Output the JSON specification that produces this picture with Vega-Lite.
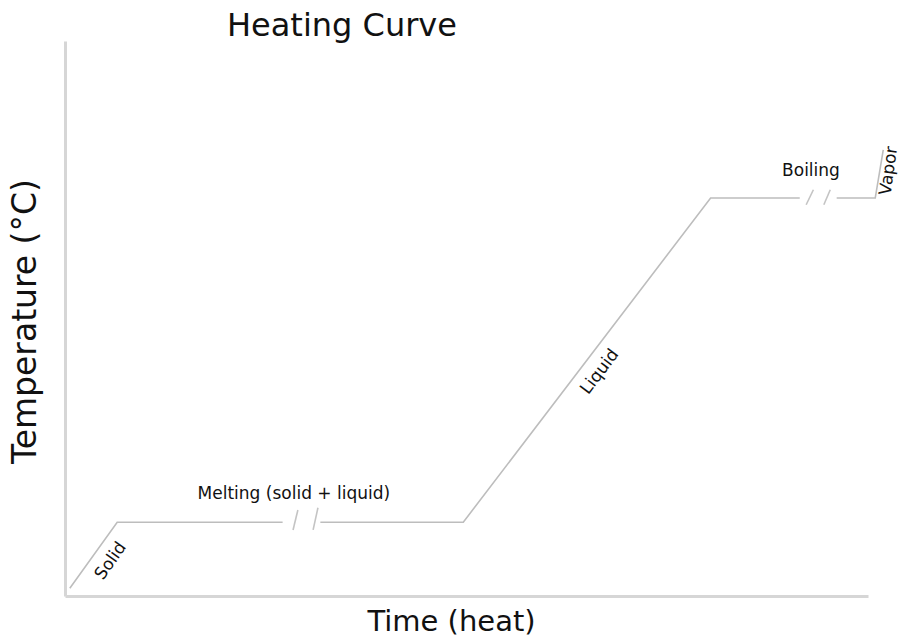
{
  "$schema": "https://vega.github.io/schema/vega-lite/v6.json",
  "autosize": "none",
  "width": 803,
  "height": 555,
  "padding": {"left": 65, "top": 41, "right": 34, "bottom": 42},
  "background": "white",
  "config": {"view": {"stroke": null}, "font": "DejaVu Sans"},
  "title": {"text": "Heating Curve", "anchor": "start", "frame": "group", "dx": 162, "offset": -2, "fontSize": 32, "fontWeight": "normal", "font": "DejaVu Sans", "color": "#111111"},
  "datasets": {
    "curve": [
      {"seg": "a", "t": 1, "time": 0.6, "temp": 1.4},
      {"seg": "a", "t": 2, "time": 6.5, "temp": 13.3},
      {"seg": "a", "t": 3, "time": 27.1, "temp": 13.3},
      {"seg": "b", "t": 4, "time": 31.8, "temp": 13.3},
      {"seg": "b", "t": 5, "time": 49.6, "temp": 13.3},
      {"seg": "b", "t": 6, "time": 80.4, "temp": 71.7},
      {"seg": "b", "t": 7, "time": 91.5, "temp": 71.7},
      {"seg": "c", "t": 8, "time": 96.1, "temp": 71.7},
      {"seg": "c", "t": 9, "time": 100.9, "temp": 71.7},
      {"seg": "c", "t": 10, "time": 101.9, "temp": 80.4}
    ],
    "breaks": [
      {"time": 28.4, "temp": 11.9, "time2": 29.0, "temp2": 15.5},
      {"time": 30.9, "temp": 11.9, "time2": 31.5, "temp2": 15.9},
      {"time": 92.3, "temp": 70.5, "time2": 93.2, "temp2": 73.2},
      {"time": 94.5, "temp": 70.5, "time2": 95.3, "temp2": 73.2}
    ],
    "labels": [
      {"label": "Solid", "kind": "solid", "time": 5.7, "temp": 6.3},
      {"label": "Melting (solid + liquid)", "kind": "flat", "time": 28.5, "temp": 18.4},
      {"label": "Liquid", "kind": "liquid", "time": 66.6, "temp": 40.4},
      {"label": "Boiling", "kind": "flat", "time": 92.9, "temp": 76.6},
      {"label": "Vapor", "kind": "vapor", "time": 102.6, "temp": 76.6}
    ]
  },
  "encoding": {
    "x": {"field": "time", "type": "quantitative", "scale": {"domain": [0, 100], "nice": false, "zero": false},
      "axis": {"title": "Time (heat)", "titleFontSize": 29, "titleFontWeight": "normal", "titleColor": "#111111", "titlePadding": 11, "titleX": 386, "labels": false, "ticks": false, "grid": false, "domainColor": "#d6d6d6", "domainWidth": 3}},
    "y": {"field": "temp", "type": "quantitative", "scale": {"domain": [0, 100], "nice": false, "zero": false},
      "axis": {"title": "Temperature (°C)", "titleFontSize": 33, "titleFontWeight": "normal", "titleColor": "#111111", "titlePadding": 23, "titleY": 280, "labels": false, "ticks": false, "grid": false, "domainColor": "#d6d6d6", "domainWidth": 3}}
  },
  "layer": [
    {
      "data": {"name": "curve"},
      "mark": {"type": "line", "color": "#bdbdbd", "strokeWidth": 1.6},
      "encoding": {"detail": {"field": "seg"}, "order": {"field": "t", "type": "quantitative"}}
    },
    {
      "data": {"name": "breaks"},
      "mark": {"type": "rule", "color": "#c4c4c4", "strokeWidth": 1.6},
      "encoding": {"x2": {"field": "time2"}, "y2": {"field": "temp2"}}
    },
    {
      "data": {"name": "labels"},
      "transform": [{"filter": "datum.kind === 'flat'"}],
      "mark": {"type": "text", "fontSize": 17, "color": "#111111", "align": "center", "baseline": "middle"},
      "encoding": {"text": {"field": "label"}}
    },
    {
      "data": {"name": "labels"},
      "transform": [{"filter": "datum.kind === 'solid'"}],
      "mark": {"type": "text", "fontSize": 17, "color": "#111111", "align": "center", "baseline": "middle", "angle": 305},
      "encoding": {"text": {"field": "label"}}
    },
    {
      "data": {"name": "labels"},
      "transform": [{"filter": "datum.kind === 'liquid'"}],
      "mark": {"type": "text", "fontSize": 17, "color": "#111111", "align": "center", "baseline": "middle", "angle": 307},
      "encoding": {"text": {"field": "label"}}
    },
    {
      "data": {"name": "labels"},
      "transform": [{"filter": "datum.kind === 'vapor'"}],
      "mark": {"type": "text", "fontSize": 17, "color": "#111111", "align": "center", "baseline": "middle", "angle": 278},
      "encoding": {"text": {"field": "label"}}
    }
  ]
}
